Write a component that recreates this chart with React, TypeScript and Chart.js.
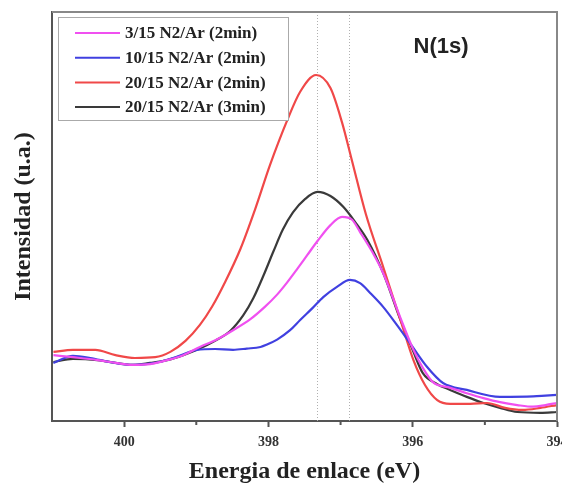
import React, { useEffect, useRef } from "react";
import { Chart, registerables } from "chart.js";

Chart.register(...registerables);

// ---- Data (binding energy in eV, intensity in a.u.) ----
const labels = [
  "3/15 N2/Ar (2min)",
  "10/15 N2/Ar (2min)",
  "20/15 N2/Ar (2min)",
  "20/15 N2/Ar (3min)",
];
const colors = ["#f050f0", "#4040e0", "#f04848", "#3a3a3a"];

const magentaE = [400.98, 400.71, 400.37, 400.12, 399.88, 399.64, 399.4, 399.18, 398.95, 398.71, 398.49, 398.25, 398.05, 397.88, 397.74, 397.6, 397.46, 397.32, 397.14, 396.98, 396.84, 396.73, 396.56, 396.41, 396.17, 395.99, 395.86, 395.72, 395.48, 395.25, 395.02, 394.79, 394.55, 394.33, 394.16, 394.0];
const magentaI = [16.1, 15.6, 14.9, 14.2, 13.7, 13.9, 14.9, 16.1, 18.1, 20.0, 22.2, 24.9, 27.9, 30.9, 33.9, 37.2, 40.6, 44.0, 47.9, 49.9, 49.2, 46.2, 41.3, 36.2, 25.2, 17.4, 13.0, 9.5, 8.1, 6.8, 5.6, 4.6, 3.9, 3.5, 3.9, 4.4];

const blueE = [400.98, 400.71, 400.47, 400.19, 399.88, 399.57, 399.29, 398.99, 398.74, 398.49, 398.3, 398.11, 398.02, 397.88, 397.7, 397.56, 397.39, 397.24, 397.05, 396.87, 396.73, 396.59, 396.41, 396.22, 396.04, 395.8, 395.58, 395.25, 394.79, 394.33, 394.16, 394.0];
const blueI = [14.2, 15.9, 15.4, 14.4, 13.7, 14.2, 15.6, 17.4, 17.6, 17.4, 17.7, 18.1, 18.7, 19.9, 22.2, 24.7, 27.6, 30.3, 32.8, 34.5, 33.7, 31.3, 27.9, 23.5, 19.1, 13.2, 9.3, 7.6, 5.9, 6.0, 6.2, 6.4];

const redE = [400.98, 400.71, 400.4, 400.12, 399.85, 399.57, 399.36, 399.15, 398.95, 398.78, 398.6, 398.39, 398.18, 397.98, 397.74, 397.56, 397.34, 397.14, 396.98, 396.84, 396.65, 396.41, 396.17, 395.99, 395.83, 395.66, 395.48, 395.2, 394.97, 394.72, 394.48, 394.23, 394.0];
const redI = [16.9, 17.4, 17.4, 16.1, 15.4, 15.6, 16.9, 19.6, 23.5, 28.0, 34.0, 42.0, 52.0, 62.5, 73.5, 80.5, 84.6, 81.4, 73.0, 63.5, 50.6, 37.7, 24.7, 14.9, 8.8, 5.1, 4.2, 4.2, 4.4, 3.2, 2.7, 3.2, 3.9];

const blackE = [400.98, 400.71, 400.37, 400.12, 399.88, 399.64, 399.4, 399.18, 398.99, 398.74, 398.53, 398.35, 398.21, 398.07, 397.93, 397.8, 397.66, 397.49, 397.32, 397.14, 396.96, 396.8, 396.63, 396.41, 396.17, 395.99, 395.86, 395.66, 395.48, 395.25, 395.02, 394.79, 394.55, 394.23, 394.0];
const blackI = [14.4, 15.2, 14.9, 14.2, 13.7, 14.2, 14.9, 16.1, 17.4, 19.6, 22.0, 25.8, 30.0, 35.5, 41.5, 46.8, 51.0, 54.3, 56.0, 55.0, 52.3, 48.7, 44.3, 36.2, 24.7, 16.9, 11.7, 9.0, 7.6, 5.9, 4.4, 3.2, 2.2, 2.0, 2.2];

const seriesE = [magentaE, blueE, redE, blackE];
const seriesI = [magentaI, blueI, redI, blackI];

const refLines = [397.33, 396.88];
const xMin = 394;
const xMax = 401;
const annotation = "N(1s)";
const xTitle = "Energia de enlace (eV)";
const yTitle = "Intensidad (u.a.)";

const SERIF = "'Liberation Serif', 'Times New Roman', serif";
const SANS = "'Liberation Sans', Arial, sans-serif";

const decorPlugin = {
  id: "decor",
  beforeDatasetsDraw(chart: any) {
    const { ctx, chartArea } = chart;
    const xs = chart.scales.x;
    ctx.save();
    ctx.strokeStyle = "#b0b0b0";
    ctx.lineWidth = 1;
    ctx.setLineDash([1, 2]);
    refLines.forEach((v) => {
      const px = Math.round(xs.getPixelForValue(v)) + 0.5;
      ctx.beginPath();
      ctx.moveTo(px, chartArea.top);
      ctx.lineTo(px, chartArea.bottom);
      ctx.stroke();
    });
    ctx.restore();
  },
  afterDatasetsDraw(chart: any) {
    const { ctx, chartArea } = chart;
    const xs = chart.scales.x;
    ctx.save();
    // frame top/right
    ctx.strokeStyle = "#888";
    ctx.lineWidth = 2;
    ctx.beginPath();
    ctx.moveTo(chartArea.left, chartArea.top);
    ctx.lineTo(chartArea.right, chartArea.top);
    ctx.lineTo(chartArea.right, chartArea.bottom);
    ctx.stroke();
    // minor ticks
    ctx.strokeStyle = "#555";
    ctx.lineWidth = 2;
    for (let v = xMin + 1; v < xMax; v += 2) {
      const px = xs.getPixelForValue(v);
      ctx.beginPath();
      ctx.moveTo(px, chartArea.bottom);
      ctx.lineTo(px, chartArea.bottom + 4);
      ctx.stroke();
    }
    // legend box
    const bx = chartArea.left + 6;
    const by = chartArea.top + 5;
    const bw = 230;
    const bh = 103;
    ctx.fillStyle = "#fff";
    ctx.fillRect(bx, by, bw, bh);
    ctx.strokeStyle = "#aaa";
    ctx.lineWidth = 1;
    ctx.strokeRect(bx + 0.5, by + 0.5, bw, bh);
    ctx.font = `bold 17px ${SERIF}`;
    ctx.textBaseline = "middle";
    ctx.textAlign = "left";
    labels.forEach((t, i) => {
      const y = by + 16 + i * 24.7;
      ctx.strokeStyle = colors[i];
      ctx.lineWidth = 2;
      ctx.beginPath();
      ctx.moveTo(bx + 17, y);
      ctx.lineTo(bx + 62, y);
      ctx.stroke();
      ctx.fillStyle = "#222";
      ctx.fillText(t, bx + 67, y + 1);
    });
    // annotation
    ctx.font = `bold 22px ${SANS}`;
    ctx.fillStyle = "#222";
    ctx.textAlign = "center";
    ctx.fillText(annotation, 441, 47);
    ctx.restore();
  },
};

export default function App() {
  const ref = useRef<HTMLCanvasElement | null>(null);
  useEffect(() => {
    if (!ref.current) return;
    const chart = new Chart(ref.current, {
      type: "line",
      data: {
        datasets: labels.map((l, i) => ({
          label: l,
          data: seriesE[i].map((e, j) => ({ x: e, y: seriesI[i][j] })),
          borderColor: colors[i],
          borderWidth: 2.2,
          pointRadius: 0,
          fill: false,
          cubicInterpolationMode: "monotone" as const,
        })),
      },
      options: {
        animation: false,
        responsive: false,
        layout: { padding: { top: 12, right: 5, left: 0, bottom: 0 } },
        plugins: { legend: { display: false }, tooltip: { enabled: false }, title: { display: false } },
        scales: {
          x: {
            type: "linear",
            min: xMin,
            max: xMax,
            reverse: true,
            afterFit: (s: any) => {
              s.height = 66;
              s.paddingLeft = 0;
              s.paddingRight = 0;
            },
            ticks: {
              stepSize: 1,
              autoSkip: false,
              maxRotation: 0,
              padding: 7,
              color: "#333",
              font: { family: SERIF, size: 14, weight: "bold" },
              callback: (v: any) => (Number(v) % 2 === 0 ? String(v) : ""),
            },
            grid: {
              display: true,
              drawOnChartArea: false,
              drawTicks: true,
              tickLength: 6,
              tickWidth: 2,
              tickColor: (c: any) => (c.tick && Number(c.tick.value) % 2 === 0 ? "#555" : "rgba(0,0,0,0)"),
            },
            border: { display: true, color: "#555", width: 2 },
            title: {
              display: true,
              text: xTitle,
              color: "#222",
              font: { family: SERIF, size: 24, weight: "bold" },
              padding: { top: 0, bottom: 1 },
            },
          },
          y: {
            type: "linear",
            min: 0,
            max: 100,
            afterFit: (s: any) => {
              s.width = 52;
            },
            ticks: { display: false },
            grid: { display: false, drawTicks: false },
            border: { display: true, color: "#555", width: 2 },
            title: {
              display: true,
              text: yTitle,
              color: "#222",
              font: { family: SERIF, size: 24, weight: "bold" },
              padding: { top: 9, bottom: 0 },
            },
          },
        },
      },
      plugins: [decorPlugin],
    });
    return () => chart.destroy();
  }, []);
  return (
    <div style={{ position: "fixed", left: 0, top: 0, width: 562, height: 487, background: "#fff" }}>
      <canvas ref={ref} width={562} height={487} style={{ display: "block" }} />
    </div>
  );
}
